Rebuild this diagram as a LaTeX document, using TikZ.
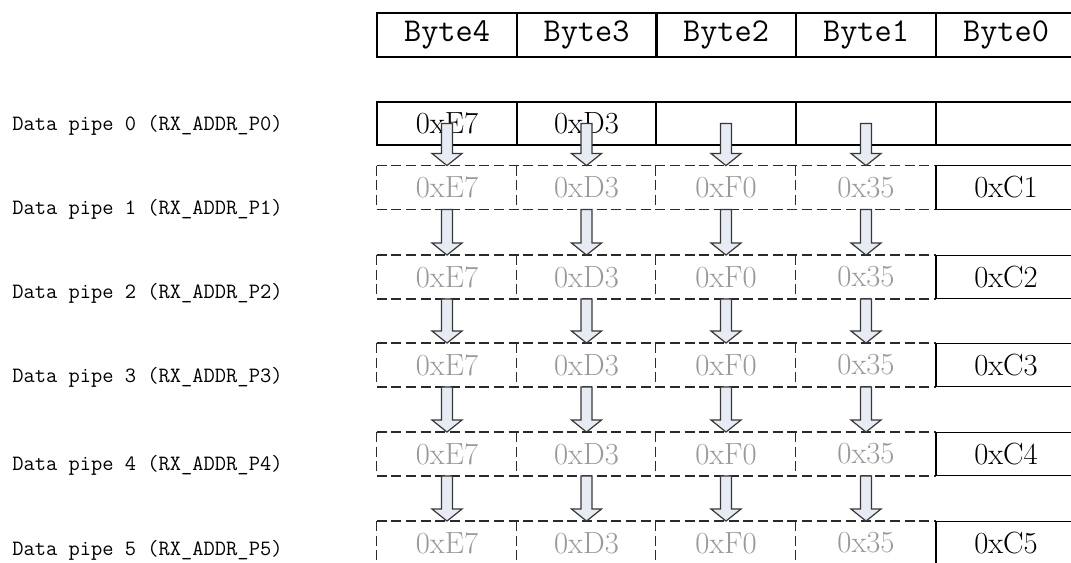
\documentclass[tikz,border=0pt]{standalone}
\usetikzlibrary{calc}

\definecolor{ghost}{HTML}{999999}
\definecolor{gridline}{HTML}{2A2A2A}
\definecolor{arrowfill}{HTML}{E6EBF4}
\definecolor{arrowline}{HTML}{383838}

\tikzset{
  pipe arrow/.style={draw=arrowline,fill=arrowfill,line width=0.9pt,line join=miter},
  grid dash/.style={draw=gridline,dash pattern=on 7.5pt off 3.5pt,line width=0.9pt}
}

% hollow block arrow from one cell down to the next
\newcommand{\pipearrow}[2]{%
  \draw[pipe arrow] let \p1=(#1), \p2=(#2) in
    (\x1-4.1pt,\y1) -- (\x1-4.1pt,\y2+9pt) -- (\x1-11.2pt,\y2+9pt) -- (\x1,\y2)
    -- (\x1+11.2pt,\y2+9pt) -- (\x1+4.1pt,\y2+9pt) -- (\x1+4.1pt,\y1) -- cycle;}

\begin{document}
\begin{tikzpicture}[x=0.75pt,y=-0.75pt]

      \clip (0,0) rectangle (1071,563);
      \fill[white] (0,0) rectangle (1071,563);

      % byte header
      \begin{scope}[every node/.style={draw,line width=1.5pt,minimum width=105pt,minimum height=33pt,inner sep=0pt,font=\fontsize{25}{30}\selectfont\ttfamily}]
        \node (b4) at (447,35)    {Byte4};
        \node (b3) at (586.5,35)  {Byte3};
        \node (b2) at (726,35)    {Byte2};
        \node (b1) at (866,35)    {Byte1};
        \node (b0) at (1006,35)   {Byte0};
      \end{scope}

      % pipe names
      \begin{scope}[every node/.style={anchor=west,inner sep=0pt,font=\fontsize{16.4}{20}\selectfont\ttfamily}]
        \node (l0) at (12,125) {Data pipe 0 (RX\_ADDR\_P0)};
        \node (l1) at (12,209) {Data pipe 1 (RX\_ADDR\_P1)};
        \node (l2) at (12,293) {Data pipe 2 (RX\_ADDR\_P2)};
        \node (l3) at (12,377) {Data pipe 3 (RX\_ADDR\_P3)};
        \node (l4) at (12,465) {Data pipe 4 (RX\_ADDR\_P4)};
        \node (l5) at (12,550) {Data pipe 5 (RX\_ADDR\_P5)};
      \end{scope}

      % pipe 0, full address
      \begin{scope}[every node/.style={draw,line width=1.1pt,minimum width=105pt,minimum height=32.5pt,inner sep=0pt,font=\fontsize{23}{27}\selectfont}]
        \node (p0b4) at (447,123.5)   {0xE7};
        \node (p0b3) at (586.5,123.5) {0xD3};
        \node (p0b2) at (726,123.5)   {};
        \node (p0b1) at (866,123.5)   {};
        \node (p0b0) at (1006,123.5)  {};
      \end{scope}

      % pipes 1-5, shared bytes
      \begin{scope}[every node/.style={text=ghost,minimum width=105pt,minimum height=32.5pt,inner sep=0pt,font=\fontsize{23}{27}\selectfont}]
        \node (p1b4) at (447,187.5)   {0xE7};
        \node (p1b3) at (586.5,187.5) {0xD3};
        \node (p1b2) at (726,187.5)   {0xF0};
        \node (p1b1) at (866,187.5)   {0x35};
        \node (p2b4) at (447,277)     {0xE7};
        \node (p2b3) at (586.5,277)   {0xD3};
        \node (p2b2) at (726,277)     {0xF0};
        \node (p2b1) at (866,277)     {0x35};
        \node (p3b4) at (447,365)     {0xE7};
        \node (p3b3) at (586.5,365)   {0xD3};
        \node (p3b2) at (726,365)     {0xF0};
        \node (p3b1) at (866,365)     {0x35};
        \node (p4b4) at (447,454)     {0xE7};
        \node (p4b3) at (586.5,454)   {0xD3};
        \node (p4b2) at (726,454)     {0xF0};
        \node (p4b1) at (866,454)     {0x35};
        \node (p5b4) at (447,543)     {0xE7};
        \node (p5b3) at (586.5,543)   {0xD3};
        \node (p5b2) at (726,543)     {0xF0};
        \node (p5b1) at (866,543)     {0x35};
      \end{scope}

      % dashed grid of the shared bytes
      \draw[grid dash] (p1b4.north west) -- (p1b1.north east) (p1b4.south west) -- (p1b1.south east)
        (p1b4.north west) -- (p1b4.south west) (p1b3.north west) -- (p1b3.south west)
        (p1b2.north west) -- (p1b2.south west) (p1b1.north west) -- (p1b1.south west);
      \draw[grid dash] (p2b4.north west) -- (p2b1.north east) (p2b4.south west) -- (p2b1.south east)
        (p2b4.north west) -- (p2b4.south west) (p2b3.north west) -- (p2b3.south west)
        (p2b2.north west) -- (p2b2.south west) (p2b1.north west) -- (p2b1.south west);
      \draw[grid dash] (p3b4.north west) -- (p3b1.north east) (p3b4.south west) -- (p3b1.south east)
        (p3b4.north west) -- (p3b4.south west) (p3b3.north west) -- (p3b3.south west)
        (p3b2.north west) -- (p3b2.south west) (p3b1.north west) -- (p3b1.south west);
      \draw[grid dash] (p4b4.north west) -- (p4b1.north east) (p4b4.south west) -- (p4b1.south east)
        (p4b4.north west) -- (p4b4.south west) (p4b3.north west) -- (p4b3.south west)
        (p4b2.north west) -- (p4b2.south west) (p4b1.north west) -- (p4b1.south west);
      \draw[grid dash] (p5b4.north west) -- (p5b1.north east) (p5b4.south west) -- (p5b1.south east)
        (p5b4.north west) -- (p5b4.south west) (p5b3.north west) -- (p5b3.south west)
        (p5b2.north west) -- (p5b2.south west) (p5b1.north west) -- (p5b1.south west);

      % pipes 1-5, own LSByte
      \begin{scope}[every node/.style={draw,line width=0.9pt,minimum width=105pt,minimum height=32.5pt,inner sep=0pt,font=\fontsize{23}{27}\selectfont}]
        \node (p1b0) at (1006,187.5) {0xC1};
        \node (p2b0) at (1006,277)   {0xC2};
        \node (p3b0) at (1006,365)   {0xC3};
        \node (p4b0) at (1006,454)   {0xC4};
        \node (p5b0) at (1006,543)   {0xC5};
      \end{scope}

      % arrows
      \pipearrow{p0b4.center}{p1b4.north}
      \pipearrow{p0b3.center}{p1b3.north}
      \pipearrow{p0b2.center}{p1b2.north}
      \pipearrow{p0b1.center}{p1b1.north}
      \pipearrow{p1b4.south}{p2b4.north}
      \pipearrow{p1b3.south}{p2b3.north}
      \pipearrow{p1b2.south}{p2b2.north}
      \pipearrow{p1b1.south}{p2b1.north}
      \pipearrow{p2b4.south}{p3b4.north}
      \pipearrow{p2b3.south}{p3b3.north}
      \pipearrow{p2b2.south}{p3b2.north}
      \pipearrow{p2b1.south}{p3b1.north}
      \pipearrow{p3b4.south}{p4b4.north}
      \pipearrow{p3b3.south}{p4b3.north}
      \pipearrow{p3b2.south}{p4b2.north}
      \pipearrow{p3b1.south}{p4b1.north}
      \pipearrow{p4b4.south}{p5b4.north}
      \pipearrow{p4b3.south}{p5b3.north}
      \pipearrow{p4b2.south}{p5b2.north}
      \pipearrow{p4b1.south}{p5b1.north}

    \end{tikzpicture}
\end{document}
